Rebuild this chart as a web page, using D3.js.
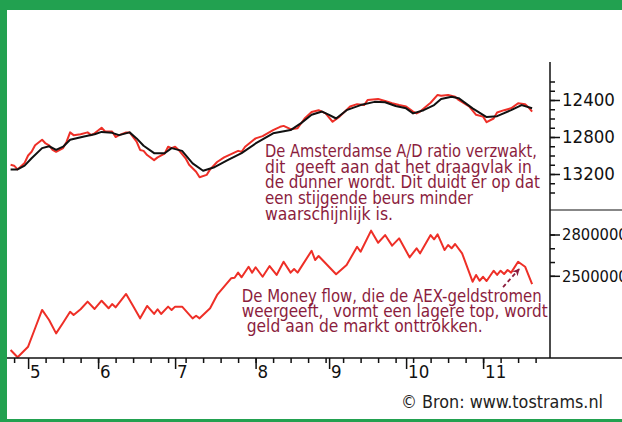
<!DOCTYPE html>
<meta charset="utf-8">
<script src="https://d3js.org/d3.v7.min.js"></script>
<style>
  body { margin: 0; background: #fff; }
  #my_dataviz text { font-family: "DejaVu Sans Condensed", "DejaVu Sans", sans-serif; font-stretch: condensed; white-space: pre; }
</style>
<div id="my_dataviz"></div>
<script>

// trading day index (0 = first day shown) for each reading
var adDays = [0,1,2,4,5,6,7,9,10,11,12,13,15,16,17,18,20,22,23,24,26,27,29,30,31,33,34,36,37,38,39,41,42,44,45,46,47,48,50,51,53,54,56,57,59,61,63,65,66,67,70,72,75,77,78,80,82,84,86,88,90,92,94,97,99,101,102,105,107,109,111,113,115,116,117,120,122,123,125,127,128,131,133,135,136,138,139,141,143,145,147,148,149];
var adValues = [13100,13110,13150,13080,13000,12960,12890,12830,12870,12890,12940,12960,12920,12850,12750,12780,12770,12750,12780,12760,12700,12740,12740,12800,12780,12750,12750,12850,12940,12950,12995,13050,13020,12980,12905,12920,12905,12940,13030,13100,13175,13235,13210,13150,13070,13020,12985,12950,12960,12905,12815,12790,12725,12690,12680,12715,12705,12600,12530,12510,12545,12635,12580,12470,12445,12455,12400,12390,12410,12435,12455,12470,12525,12545,12525,12430,12345,12355,12345,12365,12400,12470,12560,12580,12640,12600,12535,12510,12490,12435,12445,12480,12525];

// moving average of the A/D ratio (black)
var maDays = [0,2,4,6,9,11,13,15,17,21,24,26,29,31,34,36,38,41,44,46,49,52,55,58,62,66,70,75,80,83,86,89,91,93,96,100,104,107,110,113,115,118,121,123,126,128,132,136,139,143,146,149];
var maValues = [13150,13150,13110,13030,12920,12900,12940,12905,12830,12795,12770,12745,12755,12780,12750,12815,12895,12975,12975,12920,12950,13085,13165,13130,13050,12975,12870,12760,12725,12650,12560,12525,12560,12600,12510,12455,12420,12425,12465,12490,12545,12510,12455,12390,12365,12380,12490,12585,12575,12510,12455,12490];

// money flow
var mfDays = [0,2,5,7,9,11,13,15,17,18,20,22,24,26,28,29,30,33,35,37,39,41,42,43,45,46,47,49,52,53,54,57,59,63,64,65,66,68,69,70,72,74,76,78,80,81,82,86,87,88,93,96,99,100,103,105,107,109,111,114,116,117,120,121,122,124,125,126,127,129,132,133,134,135,136,138,139,140,141,142,143,145,147,149];
var mfValues = [1961000,1908000,1985000,2119000,2252000,2179000,2082000,2159000,2239000,2215000,2257000,2312000,2259000,2319000,2264000,2295000,2271000,2368000,2281000,2191000,2281000,2223000,2257000,2223000,2276000,2252000,2276000,2276000,2191000,2210000,2191000,2264000,2361000,2482000,2486000,2523000,2489000,2566000,2523000,2562000,2493000,2571000,2506000,2602000,2523000,2549000,2523000,2682000,2615000,2644000,2511000,2578000,2711000,2675000,2828000,2740000,2796000,2719000,2772000,2634000,2700000,2663000,2796000,2765000,2801000,2687000,2724000,2700000,2731000,2663000,2457000,2506000,2464000,2493000,2462000,2537000,2506000,2537000,2513000,2542000,2523000,2602000,2566000,2440000];

// x axis: week ticks and month starts (trading day index)
var weekTicks = [1,10,15,20,25,30,35,40,45,50,55,60,65,70,75,80,85,90,95,100,105,110,115,120,125,130,135,140,145,150];
var monthTicks = [5,25,47,70,91,113,135];
var monthLabels = ["5","6","7","8","9","10","11"];

// right axes
var adMinorTicks = d3.range(12200, 13401, 100);
var adLabelTicks = [12400, 12800, 13200];
var mfMinorTicks = [2500000, 2600000, 2700000, 2800000];
var mfLabelTicks = [2800000, 2500000];

var noteTop = ["De Amsterdamse A/D ratio verzwakt,", "dit  geeft aan dat het draagvlak in", "de dunner wordt. Dit duidt er op dat", "een stijgende beurs minder", "waarschijnlijk is."];
var noteBottom = ["De Money flow, die de AEX-geldstromen", "weergeeft,  vormt een lagere top, wordt", "geld aan de markt onttrokken."];
var source = "\u00a9 Bron: www.tostrams.nl";

var width = 622, height = 422;
var axisY = 358, axisX = 550, splitY = 210;
var red = "#ee2f27", maroon = "#8b1d3d", green = "#22a150";

var svg = d3.select("#my_dataviz")
  .append("svg")
    .attr("width", width)
    .attr("height", height);

// green frame
svg.append("rect").attr("width", width).attr("height", height).attr("fill", green);
svg.append("rect").attr("x", 7).attr("y", 10).attr("width", width - 7).attr("height", 409).attr("fill", "#fff");

var x = d3.scaleLinear().domain([0, 150]).range([10.6, 535.6]);
var yTop = d3.scaleLinear().domain([12400, 13200]).range([100, 174]);
var yBot = d3.scaleLinear().domain([2500000, 2800000]).range([275.8, 234.5]);

// lines
function drawLine(days, vals, y, color) {
  var pts = days.map(function(d, i) { return [d, vals[i]]; });
  svg.append("path")
    .datum(pts)
    .attr("fill", "none")
    .attr("stroke", color)
    .attr("stroke-width", 2)
    .attr("stroke-linejoin", "round")
    .attr("d", d3.line().x(function(d) { return x(d[0]); }).y(function(d) { return y(d[1]); }));
}
drawLine(adDays, adValues, yTop, red);
drawLine(maDays, maValues, yTop, "#111");
drawLine(mfDays, mfValues, yBot, red);

// x axis
svg.append("line").attr("x1", 7).attr("x2", width).attr("y1", axisY).attr("y2", axisY)
  .attr("stroke", "#111").attr("stroke-width", 1.5);
svg.append("g")
  .attr("transform", "translate(0," + axisY + ")")
  .call(d3.axisBottom(x).tickValues(weekTicks).tickSize(5).tickFormat(""))
  .call(function(g) { g.select(".domain").remove(); })
  .selectAll("line").attr("stroke", "#111").attr("stroke-width", 1.5);
var mg = svg.append("g")
  .attr("transform", "translate(0," + axisY + ")")
  .call(d3.axisBottom(x).tickValues(monthTicks).tickSize(11).tickFormat(function(d, i) { return monthLabels[i]; }))
  .call(function(g) { g.select(".domain").remove(); });
mg.selectAll("line").attr("stroke", "#111").attr("stroke-width", 1.5);
mg.selectAll("text")
  .attr("x", 1.5).attr("y", 20).attr("dy", 0)
  .style("text-anchor", "start")
  .style("font-size", "18.5px")
  .attr("fill", "#111");

// right axis
svg.append("line").attr("x1", axisX).attr("x2", axisX).attr("y1", 62).attr("y2", axisY)
  .attr("stroke", "#111").attr("stroke-width", 1.5);
svg.append("line").attr("x1", axisX).attr("x2", width).attr("y1", splitY).attr("y2", splitY)
  .attr("stroke", "#111").attr("stroke-width", 1.2);

function rightAxis(y, minor, major, size) {
  svg.append("g")
    .attr("transform", "translate(" + axisX + ",0)")
    .call(d3.axisRight(y).tickValues(minor).tickSize(5).tickFormat(""))
    .call(function(g) { g.select(".domain").remove(); })
    .selectAll("line").attr("stroke", "#111").attr("stroke-width", 1.5);
  var g = svg.append("g")
    .attr("transform", "translate(" + axisX + ",0)")
    .call(d3.axisRight(y).tickValues(major).tickSize(10).tickPadding(2).tickFormat(d3.format("d")))
    .call(function(g) { g.select(".domain").remove(); });
  g.selectAll("line").attr("stroke", "#111").attr("stroke-width", 1.5);
  g.selectAll("text").style("font-size", size + "px").attr("fill", "#111");
}
rightAxis(yTop, adMinorTicks, adLabelTicks, 18.5);
rightAxis(yBot, mfMinorTicks, mfLabelTicks, 16.4);

// notes
var topLen = [272, 267, 275, 208, 128];
svg.append("g").selectAll("text")
  .data(noteTop).enter().append("text")
    .attr("x", 265)
    .attr("y", function(d, i) { return 156.7 + i * 15.8; })
    .attr("textLength", function(d, i) { return topLen[i]; })
    .attr("lengthAdjust", "spacingAndGlyphs")
    .style("font-size", "18px")
    .attr("fill", maroon)
    .text(function(d) { return d; });

var botX = [241.7, 241.7, 246.7], botLen = [300, 306, 236];
svg.append("g").selectAll("text")
  .data(noteBottom).enter().append("text")
    .attr("x", function(d, i) { return botX[i]; })
    .attr("y", function(d, i) { return 302 + i * 14.8; })
    .attr("textLength", function(d, i) { return botLen[i]; })
    .attr("lengthAdjust", "spacingAndGlyphs")
    .style("font-size", "18px")
    .attr("fill", maroon)
    .text(function(d) { return d; });

// dashed arrow to the lower top
svg.append("defs").append("marker")
  .attr("id", "head").attr("viewBox", "0 0 10 10").attr("refX", 9).attr("refY", 5)
  .attr("markerWidth", 4).attr("markerHeight", 4).attr("orient", "auto")
  .append("path").attr("d", "M0,0L10,5L0,10L3,5Z").attr("fill", maroon);
svg.append("line")
  .attr("x1", x(140.7)).attr("y1", yBot(2418000))
  .attr("x2", x(145.3)).attr("y2", yBot(2549000))
  .attr("stroke", maroon).attr("stroke-width", 1.8)
  .attr("stroke-dasharray", "4,3")
  .attr("marker-end", "url(#head)");

svg.append("text")
  .attr("x", 401).attr("y", 408)
  .attr("textLength", 202).attr("lengthAdjust", "spacingAndGlyphs")
  .style("font-size", "18.5px")
  .attr("fill", "#222")
  .text(source);

</script>
